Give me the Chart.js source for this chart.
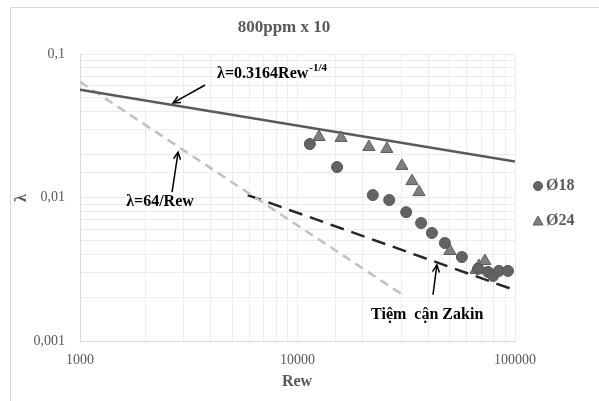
<!DOCTYPE html>
<html>
<head>
<meta charset="utf-8">
<script src="https://cdn.jsdelivr.net/npm/chart.js@4/dist/chart.umd.min.js"></script>
<style>
  body { margin: 0; background: #fff; }
  #wrap { width: 599px; height: 401px; position: relative; }
</style>
</head>
<body>
<div id="wrap"><canvas id="frictionChart"></canvas></div>
<script>
// Ø18 (circles)
const re18 = [11400, 15200, 22200, 26400, 31600, 37000, 41500, 47600, 57000, 67600, 75100, 79300, 84400, 92800];
const lam18 = [0.0236, 0.0163, 0.0104, 0.0096, 0.0079, 0.00664, 0.00566, 0.00482, 0.00385, 0.00318, 0.00303, 0.00284, 0.00308, 0.00308];

// Ø24 (triangles)
const re24 = [12560, 15850, 21300, 25750, 30200, 33600, 36200, 50200, 66200, 68300, 72700];
const lam24 = [0.0264, 0.0260, 0.0225, 0.0218, 0.0166, 0.0130, 0.0109, 0.00424, 0.00313, 0.00333, 0.00361];

// reference curves (end points)
const reBlasius = [1000, 100000];
const lamBlasius = [0.0563, 0.0178];
const reLaminar = [1000, 30000];
const lamLaminar = [0.064, 0.00213];
const reZakin = [5900, 100000];
const lamZakin = [0.0104, 0.00226];

const xTicks = [1000, 10000, 100000];
const yTicks = [0.1, 0.01, 0.001];

const toPoints = (xs, ys) => xs.map((x, i) => ({ x: x, y: ys[i] }));

const SERIF = '"Liberation Serif", "DejaVu Serif", serif';
const GREY = '#595959';

const isPow10 = (v) => Math.abs(Math.log10(v) - Math.round(Math.log10(v))) < 1e-6;

// annotations in data units
const notes = [
    { text: 'λ=0.3164Rew', sup: '-1/4', x: 4270, y: 0.0685 },
    { text: 'λ=64/Rew', x: 1630, y: 0.0087 },
    { text: 'Tiệm  cận Zakin', x: 21800, y: 0.00143 }
];
const arrows = [
    { from: [3760, 0.0608], to: [2680, 0.0456] },
    { from: [2650, 0.0109], to: [2825, 0.0207] },
    { from: [41970, 0.00210], to: [43750, 0.00339] }
];

const drawArrow = (c, x1, y1, x2, y2) => {
    const ang = Math.atan2(y2 - y1, x2 - x1);
    c.strokeStyle = '#000';
    c.lineWidth = 1.5;
    c.beginPath();
    c.moveTo(x1, y1);
    c.lineTo(x2, y2);
    c.stroke();
    c.beginPath();
    c.moveTo(x2 - 8 * Math.cos(ang - 0.45), y2 - 8 * Math.sin(ang - 0.45));
    c.lineTo(x2, y2);
    c.lineTo(x2 - 8 * Math.cos(ang + 0.45), y2 - 8 * Math.sin(ang + 0.45));
    c.stroke();
};

const extras = {
    id: 'extras',
    beforeDraw(chart) {
        const c = chart.ctx;
        c.save();
        c.strokeStyle = '#d9d9d9';
        c.lineWidth = 1;
        c.beginPath();
        c.moveTo(10.5, 401);
        c.lineTo(10.5, 7.5);
        c.lineTo(599, 7.5);
        c.stroke();
        c.restore();
    },
    afterDraw(chart) {
        const c = chart.ctx;
        const xs = chart.scales.x, ys = chart.scales.y;
        c.save();

        // title
        c.fillStyle = GREY;
        c.textAlign = 'center';
        c.textBaseline = 'middle';
        c.font = 'bold 17px ' + SERIF;
        c.fillText('800ppm x 10', 284, 28);

        // axis titles
        c.font = 'bold 16px ' + SERIF;
        c.fillText('Rew', 297, 382);
        c.save();
        c.translate(22, 198);
        c.rotate(-Math.PI / 2);
        c.fillText('λ', 0, 0);
        c.restore();

        // annotations
        c.fillStyle = '#000';
        c.textAlign = 'left';
        c.textBaseline = 'alphabetic';
        notes.forEach(n => {
            const px = xs.getPixelForValue(n.x);
            const py = ys.getPixelForValue(n.y);
            c.font = 'bold 16px ' + SERIF;
            c.fillText(n.text, px, py);
            if (n.sup) {
                const w = c.measureText(n.text).width;
                c.font = 'bold 11px ' + SERIF;
                c.fillText(n.sup, px + w + 1, py - 7);
            }
        });
        arrows.forEach(a => {
            drawArrow(c,
                xs.getPixelForValue(a.from[0]), ys.getPixelForValue(a.from[1]),
                xs.getPixelForValue(a.to[0]), ys.getPixelForValue(a.to[1]));
        });

        // legend
        const items = [chart.data.datasets[3], chart.data.datasets[4]];
        items.forEach((ds, i) => {
            const ly = 186 + i * 35;
            c.fillStyle = ds.backgroundColor;
            c.strokeStyle = ds.borderColor;
            c.lineWidth = 1;
            c.beginPath();
            if (ds.pointStyle === 'triangle') {
                c.moveTo(538, ly - 5);
                c.lineTo(543, ly + 4);
                c.lineTo(533, ly + 4);
                c.closePath();
            } else {
                c.arc(538, ly, 4.5, 0, Math.PI * 2);
            }
            c.fill();
            c.stroke();
            c.fillStyle = GREY;
            c.font = 'bold 16px ' + SERIF;
            c.textBaseline = 'middle';
            c.fillText(ds.label, 546, ly);
        });
        c.restore();
    }
};

new Chart(document.getElementById('frictionChart'), {
    type: 'scatter',
    data: {
        datasets: [
            {
                label: 'Blasius',
                data: toPoints(reBlasius, lamBlasius),
                showLine: true,
                borderColor: '#595959',
                borderWidth: 2.5,
                pointRadius: 0,
                order: 3
            },
            {
                label: 'Laminar',
                data: toPoints(reLaminar, lamLaminar),
                showLine: true,
                borderColor: '#c0c0c0',
                borderWidth: 2.5,
                borderDash: [9, 6],
                pointRadius: 0,
                order: 3
            },
            {
                label: 'Zakin',
                data: toPoints(reZakin, lamZakin),
                showLine: true,
                borderColor: '#262626',
                borderWidth: 2.5,
                borderDash: [14, 8],
                pointRadius: 0,
                order: 3
            },
            {
                label: 'Ø18',
                data: toPoints(re18, lam18),
                pointStyle: 'circle',
                pointRadius: 5.5,
                backgroundColor: '#636363',
                borderColor: '#555555',
                borderWidth: 1,
                order: 1
            },
            {
                label: 'Ø24',
                data: toPoints(re24, lam24),
                pointStyle: 'triangle',
                pointRadius: 7,
                backgroundColor: '#7f7f7f',
                borderColor: '#5a5a5a',
                borderWidth: 1,
                order: 1
            }
        ]
    },
    options: {
        responsive: true,
        maintainAspectRatio: false,
        animation: false,
        layout: { padding: { left: 0, top: 54, right: 84, bottom: 0 } },
        plugins: {
            legend: { display: false },
            tooltip: { enabled: false },
            title: { display: false }
        },
        scales: {
            x: {
                type: 'logarithmic',
                min: xTicks[0],
                max: xTicks[xTicks.length - 1],
                afterFit: (s) => { s.height = 60; },
                grid: { color: '#ececec', drawTicks: false },
                border: { color: '#d9d9d9' },
                ticks: {
                    autoSkip: false,
                    maxRotation: 0,
                    padding: 11,
                    color: GREY,
                    font: { family: SERIF, size: 14 },
                    callback: (v) => isPow10(v) && xTicks.some(t => Math.abs(t - v) / t < 1e-6) ? String(Math.round(v)) : ''
                }
            },
            y: {
                type: 'logarithmic',
                min: yTicks[yTicks.length - 1],
                max: yTicks[0],
                afterFit: (s) => { s.width = 80; },
                grid: { color: '#ececec', drawTicks: false },
                border: { color: '#d9d9d9' },
                ticks: {
                    autoSkip: false,
                    padding: 15,
                    color: GREY,
                    font: { family: SERIF, size: 14 },
                    callback: (v) => {
                        const t = yTicks.find(t => Math.abs(t - v) / t < 1e-6);
                        return t ? String(t).replace('.', ',') : '';
                    }
                }
            }
        }
    },
    plugins: [extras]
});
</script>
</body>
</html>
